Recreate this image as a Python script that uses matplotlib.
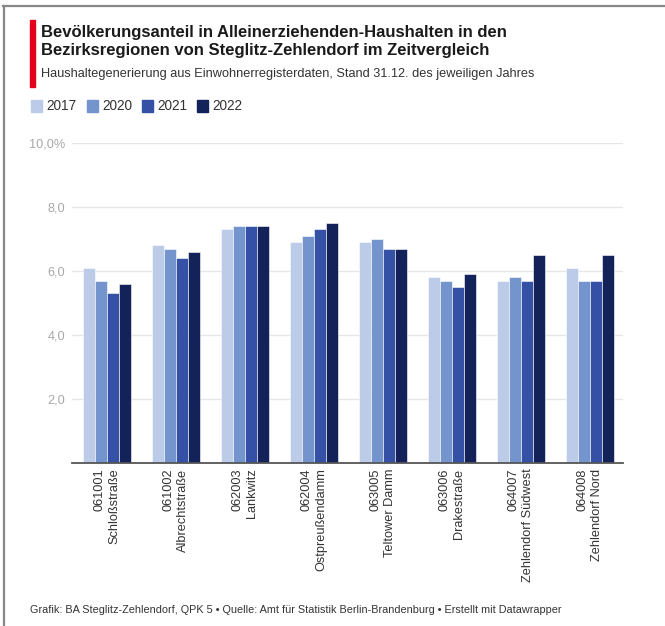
import matplotlib
matplotlib.use("Agg")
import matplotlib.pyplot as plt
from matplotlib.lines import Line2D
from matplotlib.patches import Rectangle
import numpy as np

plt.rcParams['font.family'] = ['Liberation Sans', 'DejaVu Sans']

categories = ["061001\nSchloßstraße", "061002\nAlbrechtstraße", "062003\nLankwitz",
              "062004\nOstpreußendamm", "063005\nTeltower Damm", "063006\nDrakestraße",
              "064007\nZehlendorf Südwest", "064008\nZehlendorf Nord"]
years = ["2017", "2020", "2021", "2022"]
v2017 = [6.1, 6.8, 7.3, 6.9, 6.9, 5.8, 5.7, 6.1]
v2020 = [5.7, 6.7, 7.4, 7.1, 7.0, 5.7, 5.8, 5.7]
v2021 = [5.3, 6.4, 7.4, 7.3, 6.7, 5.5, 5.7, 5.7]
v2022 = [5.6, 6.6, 7.4, 7.5, 6.7, 5.9, 6.5, 6.5]
series = [v2017, v2020, v2021, v2022]
colors = ["#bccbe7", "#7494cd", "#3451a5", "#13235a"]
yticks = [0, 2, 4, 6, 8, 10]
ytick_labels = ["", "2,0", "4,0", "6,0", "8,0", "10,0%"]

W, H = 665, 626
fig = plt.figure(figsize=(W/100, H/100), dpi=100)

def fx(px): return px / W
def fy(py): return 1 - py / H

ax = fig.add_axes([fx(72), fy(463), (623-72)/W, (463-143)/H])
x = np.arange(len(categories))
bw = 0.174
for i, (vals, c) in enumerate(zip(series, colors)):
    ax.bar(x + (i - 1.5) * bw, vals, width=bw, color=c, edgecolor='white',
           linewidth=0.4, zorder=3)

ax.set_xlim(-0.507, 7.478)
ax.set_ylim(0, 10)
ax.set_yticks(yticks)
ax.set_yticklabels(ytick_labels, color="#a8a8a8", fontsize=9.2)
ax.yaxis.grid(True, color="#e6e6e6", linewidth=1, zorder=0)
ax.tick_params(axis='y', length=0, pad=5)
ax.tick_params(axis='x', length=0, pad=4)
ax.set_xticks(x)
ax.set_xticklabels(categories, rotation=90, fontsize=9.2, color="#333333",
                   va='top', ha='center', multialignment='right',
                   linespacing=1.25)
for s in ['top', 'right', 'left']:
    ax.spines[s].set_visible(False)
ax.spines['bottom'].set_color("#555555")
ax.spines['bottom'].set_linewidth(1.3)
ax.spines['bottom'].set_zorder(4)

# frame lines
fig.add_artist(Line2D([fx(3), fx(665)], [fy(6), fy(6)], color="#888888", linewidth=1.6))
fig.add_artist(Line2D([fx(4), fx(4)], [fy(6), fy(626)], color="#888888", linewidth=1.6))
# red bar
fig.add_artist(Rectangle((fx(30), fy(87)), 5/W, 67/H, color="#e2001a", transform=fig.transFigure))

fig.text(fx(41), fy(33), "Bevölkerungsanteil in Alleinerziehenden-Haushalten in den",
         fontsize=12, fontweight='bold', va='center', ha='left', color="#1a1a1a")
fig.text(fx(41), fy(51), "Bezirksregionen von Steglitz-Zehlendorf im Zeitvergleich",
         fontsize=12, fontweight='bold', va='center', ha='left', color="#1a1a1a")
fig.text(fx(41), fy(74), "Haushaltegenerierung aus Einwohnerregisterdaten, Stand 31.12. des jeweiligen Jahres",
         fontsize=9.2, va='center', ha='left', color="#333333")

# legend
lx = [31, 87, 142, 197]
for px, yr, c in zip(lx, years, colors):
    fig.add_artist(Rectangle((fx(px), fy(112)), 11/W, 12/H, color=c, transform=fig.transFigure))
    fig.text(fx(px + 15), fy(106), yr, fontsize=9.8, va='center', ha='left', color="#333333")

fig.text(fx(30), fy(610), "Grafik: BA Steglitz-Zehlendorf, QPK 5 • Quelle: Amt für Statistik Berlin-Brandenburg • Erstellt mit Datawrapper",
         fontsize=7.8, va='center', ha='left', color="#333333")

fig.savefig("out.png", dpi=100, facecolor='white')
